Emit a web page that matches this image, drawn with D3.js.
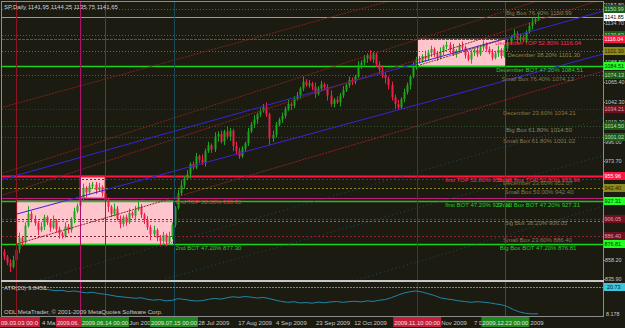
<!DOCTYPE html>
<html>
<head>
<meta charset="utf-8">
<script src="https://cdn.jsdelivr.net/npm/d3@7/dist/d3.min.js"></script>
<style>
  body { margin: 0; background: #1b1b12; }
  svg { display: block; }
  text { font-family: "Liberation Sans", Arial, sans-serif; }
</style>
</head>
<body>
<svg id="chart" width="625" height="328"></svg>
<script>
// SP daily candles, spring - December 2009 (open = previous close)
var firstOpen = 868;
var closes = [
  862, 855, 850, 858, 870, 884, 879, 898, 912, 906,
  901, 893, 897, 908, 902, 896, 904, 894, 889, 886,
  897, 893, 906, 915, 921, 930, 942, 937, 944, 946,
  940, 943, 936, 928, 920, 912, 918, 906, 900, 908,
  902, 913, 910, 917, 920, 911, 905, 896, 888, 893,
  884, 880, 887, 879, 886, 899, 919, 936, 945, 953,
  958, 970, 966, 979, 975, 972, 985, 992, 987, 1002,
  1005, 996, 1008, 1002, 1009, 991, 985, 979, 988, 994,
  1008, 1016, 1022, 1028, 1032, 1036, 1028, 1000, 1004, 1016,
  1022, 1026, 1034, 1040, 1038, 1046, 1050, 1058, 1066, 1062,
  1064, 1060, 1052, 1058, 1063, 1060, 1050, 1040, 1045, 1042,
  1050, 1056, 1062, 1068, 1066, 1072, 1085, 1088, 1093, 1097,
  1092, 1098, 1086, 1080, 1074, 1070, 1062, 1048, 1040, 1036,
  1046, 1054, 1062, 1072, 1084, 1092, 1090, 1096, 1093, 1100,
  1104, 1098, 1094, 1101, 1107, 1109, 1104, 1098, 1102, 1108,
  1106, 1097, 1092, 1100, 1103, 1098, 1106, 1110, 1104, 1100,
  1094, 1099, 1103, 1096, 1105, 1112, 1118, 1122, 1115, 1118,
  1114, 1124, 1131, 1136, 1139, 1141.65
];
var upWick = [
  3,2,4,5,3,6,2,4,9,3, 4,2,5,3,2,4,6,2,3,2, 5,3,2,4,3,6,5,2,4,3,
  3,5,2,4,3,2,6,3,4,2, 3,5,2,4,6,3,2,4,3,5, 2,3,4,2,5,3,2,4,6,3,
  5,2,3,4,2,6,3,4,2,5, 3,4,2,6,3,2,5,4,3,2, 4,3,5,2,3,4,6,2,5,3,
  2,4,3,5,2,3,4,2,6,3, 4,2,5,3,4,2,3,6,2,4, 3,5,2,4,3,2,5,3,4,2,
  6,3,2,4,5,3,2,4,3,5, 2,4,3,2,5,3,4,2,6,3, 4,2,3,5,2,4,3,6,2,3,
  5,2,4,3,2,5,3,4,2,3, 4,3,5,2,4,3,2,5,3,4, 3,2,4,5,2,3
];
var dnWick = [
  4,3,6,2,3,4,5,3,2,4, 3,6,2,4,3,5,2,4,6,3, 2,4,3,5,2,3,4,6,2,3,
  5,2,4,3,6,4,3,2,5,3, 4,2,3,6,2,4,5,3,7,2, 4,6,3,5,2,4,3,2,3,4,
  2,5,3,2,4,3,5,2,4,3, 6,2,4,3,5,6,4,3,2,4, 3,2,4,5,3,2,3,8,4,3,
  2,4,3,2,5,3,2,4,3,2, 3,4,5,2,3,4,6,3,4,2, 5,3,2,3,4,3,2,4,3,5,
  2,4,3,5,4,6,5,4,6,3, 2,4,3,5,2,4,3,2,4,3, 5,3,4,2,4,3,5,2,4,3,
  3,4,2,5,4,3,2,4,3,2, 3,2,4,3,2,4,3,2,4,3, 2,3,2,4,3,2
];

var priceTicks = [1157.80, 1134.70, 1088.50, 1065.40, 1042.30, 1019.20, 996.00, 973.70, 858.20, 835.90];

// horizontal levels drawn across the chart
var levelPrices = [1150.99, 1141.85, 1120.62, 1116.04, 1101.30, 1084.51, 1074.13, 1034.21, 1014.50, 1001.02,
                   955.96, 952.07, 942.40, 930.31, 927.31, 906.05, 903.70, 886.40, 876.81];
// price tags on the right axis
var tagPrices = [1150.99, 1141.85, 1120.62, 1116.04, 1101.30, 1084.51, 1074.13, 1034.21, 1014.50, 1001.02,
                 955.96, 942.40, 927.31, 906.05, 886.40, 876.81];

// text objects: label, bar, price
var noteTexts = [
  "Big Box 76.40%  1150.99", "December TOP 52.80%  1116.04", "December 38.20%  1101.30",
  "December BOT 47.20%  1084.51", "Small Box 76.40%  1074.13", "December 23.60%  1034.21",
  "Big Box 61.80%  1014.50", "Small Box 61.80%  1001.02", "first TOP 52.80%  955.96",
  "Small Box TOP 52.80%  955.96", "December 23.60%  952.07", "Small Box 50.00%  942.40",
  "first BOT 47.20%  927.31", "Small Box BOT 47.20%  927.31", "2nd TOP 52.80%  930.31",
  "2nd BOT 47.20%  877.30", "Big Box 38.20%  906.05", "Small Box 23.60%  886.40",
  "Big Box BOT 47.20%  876.81"
];
var noteBars = [164.5, 161, 165, 161.3, 163, 163.5, 164.5, 163.5, 144.6, 161.6, 163.5, 164, 144.6, 161.6, 56.2, 56.2, 164, 163.5, 162.5];
var notePrices = [1150.99, 1116.04, 1101.30, 1084.51, 1074.13, 1034.21, 1014.50, 1001.02, 955.96, 955.96,
                  952.07, 942.40, 927.31, 927.31, 930.31, 876.81, 906.05, 886.40, 876.81];

// rectangles: bar range and price range
var boxFrom = [4.3, 24.9, 135.4];
var boxTo = [55.4, 33.1, 164.3];
var boxTop = [927.31, 955.96, 1116.04];
var boxBot = [876.81, 930.31, 1084.51];

// trend lines: bar1, price1, bar2, price2
var trendLines = [
  [-1.31, 951.4, 203.6, 1155.5],
  [4.26, 911.7, 203.6, 1105.4],
  [-1.31, 1035.4, 127.5, 1161.3],
  [-1.31, 958.4, 175.7, 1161.3],
  [-1.31, 932.7, 195.4, 1161.3],
  [4.3, 876.81, 203.6, 1085.9],
  [135.4, 1084.51, 164.3, 1116.04],
  [9.5, 832.4, 203.6, 1030.2],
  [115.7, 834.7, 203.6, 928.7],
  [52.8, 835.9, 203.6, 987.1]
];

// vertical time markers
var markerBars = [3.9, 24.9, 33.1, 55.7, 135.4, 164.3];
var markerLabels = ["2009.03.03 00:00", "2009.06.03 00:00", "2009.06.14 00:00",
                    "2009.07.15 00:00", "2009.11.10 00:00", "2009.12.22 00:00"];

// time axis text as it shows between the marker tags
var timeLabelBars = [11.8, 40.4, 63, 76.1, 88.5, 101.6, 114.1, 142.6, 153.4, 171.8];
var timeLabels = ["4 Ma", "Jun 2009", "28 Jul 2009", "17 Aug 2009", "4 Sep 2009", "23 Sep 2009",
                  "12 Oct 2009", "Nov 2009", "7 D", "2009"];

// ATR(20), one value every second bar starting at bar 13
var atrStart = 13, atrStep = 2;
var atrValues = [
  19.8, 19.4, 19.0, 19.2, 18.6, 18.9, 18.4, 18.0, 18.3, 17.7,
  17.4, 16.9, 16.4, 16.1, 15.8, 15.5, 15.7, 15.0, 14.6, 14.9,
  14.3, 14.5, 15.3, 15.0, 14.5, 14.2, 14.4, 15.0, 15.4, 15.1,
  15.7, 16.2, 15.9, 16.3, 16.0, 15.6, 15.9, 15.3, 14.6, 14.0,
  13.6, 13.9, 13.3, 13.5, 13.2, 13.7, 13.4, 13.8, 14.0, 13.6,
  13.9, 14.1, 13.8, 14.3, 14.0, 14.6, 14.9, 15.8, 16.9, 17.9,
  18.5, 18.9, 18.4, 17.6, 16.8, 15.7, 15.2, 14.8, 14.3, 14.0,
  13.6, 13.9, 13.7, 13.4, 12.9, 12.5, 11.6, 10.2, 9.1, 8.5,
  8.2, 8.3
];
var atrLevel = 20.73;
var atrMin = 8.178;

var levelStyle = [
  ["#56604a", "1,2", 1], ["#9a9a9a", null, 1], ["#2b7a2b", "1,2", 1], ["#c81c3c", "3,1", 1],
  ["#6e6e34", "1,2", 1], ["#19d219", null, 1.5], ["#3d6a3d", "1,2", 1], ["#6a2626", "1,2", 1],
  ["#2c5c2c", "1,2", 1], ["#2c5c2c", "1,2", 1], ["#ff1744", null, 2], ["#7a2430", "2,2", 1],
  ["#8c8a1e", "2,2", 1], ["#c0207a", null, 1], ["#17c817", null, 1.5], ["#8a2234", "2,2", 1],
  ["#7c7a22", "2,2", 1], ["#8a2234", "2,2", 1], ["#19d219", null, 1.5]
];
var tagStyle = [
  ["#1e5a1e", "#b8e0b8"], ["#ffffff", "#000000"], ["#1e5a1e", "#b8e0b8"], ["#ff1744", "#ffffff"],
  ["#8c8a1e", "#202000"], ["#22ff22", "#003000"], ["#1e5a1e", "#b8e0b8"], ["#6e1020", "#e0a0a8"],
  ["#1e5a1e", "#b8e0b8"], ["#1e5a1e", "#b8e0b8"], ["#ff1744", "#ffffff"], ["#8c8a1e", "#202000"],
  ["#22ff22", "#003000"], ["#6e1020", "#e0a0a8"], ["#6e1020", "#e0a0a8"], ["#22ff22", "#003000"]
];
var noteColor = ["#8a7c52", "#ff2a50", "#8a8a44", "#22cc22", "#7c7a52", "#857a40", "#858560", "#857a50",
                 "#ff2a50", "#ff2a50", "#857a40", "#857a50", "#22cc22", "#22cc22", "#e0284a", "#22cc22",
                 "#857a50", "#857a50", "#22cc22"];
var trendStyle = [
  ["#3a24d8", null], ["#3a24d8", null], ["#7a2418", "2,1"], ["#7a2418", "2,1"], ["#8a2020", "2,1"],
  ["#8a2030", "2,1"], ["#8a3020", "2,1"], ["#1d4a58", "1,3"], ["#1d4a58", "1,3"], ["#1d4a58", "1,3"]
];
var markerColor = ["#8b1520", "#b0106a", "#2a5a2a", "#1c4b58", "#8b1520", "#2a5a2a"];
var markerBox = ["#c41e3a", "#c41e3a", "#1c8a1c", "#1c8a1c", "#c41e3a", "#1c8a1c"];

var svg = d3.select("#chart");
svg.append("rect").attr("width", 625).attr("height", 328).attr("fill", "#1b1b12");

var n = closes.length;
var x = d3.scaleLinear().domain([0, n - 1]).range([4, 538]);
var y = d3.scaleLinear().domain([835.9, 1157.8]).range([279, 3]);
var ya = d3.scaleLinear().domain([atrMin, atrLevel]).range([314, 287]);
var px = function (v) { return Math.round(v) + 0.5; };

var defs = svg.append("defs");
defs.append("clipPath").attr("id", "mainClip").append("rect")
  .attr("x", 2).attr("y", 2).attr("width", 601).attr("height", 278);
defs.append("clipPath").attr("id", "subClip").append("rect")
  .attr("x", 2).attr("y", 283).attr("width", 601).attr("height", 32);
defs.append("clipPath").attr("id", "plotClip").append("rect")
  .attr("x", 2).attr("y", 2).attr("width", 601).attr("height", 314);

var main = svg.append("g").attr("clip-path", "url(#mainClip)");

// boxes
boxFrom.forEach(function (b, k) {
  main.append("rect")
    .attr("x", x(b)).attr("y", y(boxTop[k]))
    .attr("width", x(boxTo[k]) - x(b)).attr("height", y(boxBot[k]) - y(boxTop[k]))
    .attr("fill", "#ffc4cc")
    .attr("stroke", k === 1 ? "#c0304a" : "none").attr("stroke-width", 1);
});

// vertical markers
var vlines = svg.append("g").attr("clip-path", "url(#plotClip)");
markerBars.forEach(function (b, k) {
  vlines.append("line")
    .attr("x1", px(x(b))).attr("x2", px(x(b))).attr("y1", 2).attr("y2", 316)
    .attr("stroke", markerColor[k]).attr("stroke-width", 1);
});

// horizontal levels
levelPrices.forEach(function (p, k) {
  var st = levelStyle[k];
  main.append("line")
    .attr("x1", 2).attr("x2", 603).attr("y1", px(y(p))).attr("y2", px(y(p)))
    .attr("stroke", st[0]).attr("stroke-width", st[2])
    .attr("stroke-dasharray", st[1]);
});

// candles
var bars = closes.map(function (c, i) {
  var o = i === 0 ? firstOpen : closes[i - 1];
  return { i: i, o: o, c: c, h: Math.max(o, c) + upWick[i], l: Math.min(o, c) - dnWick[i] };
});
var candle = main.append("g").selectAll("g").data(bars).enter().append("g");
candle.append("line")
  .attr("x1", function (d) { return px(x(d.i)); })
  .attr("x2", function (d) { return px(x(d.i)); })
  .attr("y1", function (d) { return y(d.h); })
  .attr("y2", function (d) { return y(d.l); })
  .attr("stroke", function (d) { return d.c >= d.o ? "#1ea51e" : "#f01e4b"; });
candle.append("rect")
  .attr("x", function (d) { return Math.round(x(d.i)) - 0.5; })
  .attr("width", 2)
  .attr("y", function (d) { return y(Math.max(d.o, d.c)); })
  .attr("height", function (d) { return Math.max(1, Math.abs(y(d.o) - y(d.c))); })
  .attr("fill", function (d) { return d.c >= d.o ? "#1ea51e" : "#f01e4b"; });

// trend lines
trendLines.forEach(function (t, k) {
  main.append("line")
    .attr("x1", x(t[0])).attr("y1", y(t[1]))
    .attr("x2", x(t[2])).attr("y2", y(t[3]))
    .attr("stroke", trendStyle[k][0]).attr("stroke-width", 1)
    .attr("stroke-dasharray", trendStyle[k][1]);
});

// text objects
noteTexts.forEach(function (t, k) {
  main.append("text")
    .attr("x", x(noteBars[k])).attr("y", y(notePrices[k]) + 6)
    .attr("font-size", 6).attr("fill", noteColor[k]).text(t);
});

// title
svg.append("text").attr("x", 4).attr("y", 8.5).attr("font-size", 6)
  .attr("fill", "#d0d0d0").text("SP,Daily  1141.95 1144.25 1135.75 1141.65");

// frame and window separator
svg.append("rect").attr("x", 1.5).attr("y", 1.5).attr("width", 602).attr("height", 315)
  .attr("fill", "none").attr("stroke", "#8c8c8c");
svg.append("line").attr("x1", 1).attr("x2", 604).attr("y1", 281).attr("y2", 281)
  .attr("stroke", "#c8c8c8").attr("stroke-width", 2);

// ATR subwindow
var sub = svg.append("g").attr("clip-path", "url(#subClip)");
sub.append("line").attr("x1", 2).attr("x2", 603).attr("y1", px(ya(atrLevel))).attr("y2", px(ya(atrLevel)))
  .attr("stroke", "#3aa0c0").attr("stroke-dasharray", "2,1");
sub.append("path")
  .datum(atrValues)
  .attr("fill", "none").attr("stroke", "#1f86a8").attr("stroke-width", 1)
  .attr("d", d3.line()
    .x(function (d, k) { return x(atrStart + k * atrStep); })
    .y(function (d) { return ya(d); }));
svg.append("text").attr("x", 4).attr("y", 289.5).attr("font-size", 6)
  .attr("fill", "#c8c8c8").text("ATR(20) 9.8458");
svg.append("text").attr("x", 4).attr("y", 314).attr("font-size", 6)
  .attr("fill", "#c8c8c8").text("ODL MetaTrader, \u00a9 2001-2009 MetaQuotes Software Corp.");

// right price axis
var axis = svg.append("g");
priceTicks.forEach(function (p) {
  var yy = Math.max(y(p), 4.5);
  axis.append("line").attr("x1", 603).attr("x2", 605).attr("y1", px(y(p))).attr("y2", px(y(p)))
    .attr("stroke", "#8c8c8c");
  axis.append("text").attr("x", 605).attr("y", yy + 2).attr("font-size", 5.4)
    .attr("fill", "#c8c8c8").text(p.toFixed(2));
});
axis.append("text").attr("x", 606).attr("y", ya(atrMin) + 2).attr("font-size", 5.4)
  .attr("fill", "#c8c8c8").text(atrMin.toFixed(3));

tagPrices.forEach(function (p, k) {
  var yy = Math.round(y(p));
  axis.append("rect").attr("x", 604).attr("y", yy - 4).attr("width", 21).attr("height", 8)
    .attr("fill", tagStyle[k][0]);
  axis.append("text").attr("x", 604.6).attr("y", yy + 2).attr("font-size", 5.4)
    .attr("fill", tagStyle[k][1]).text(p.toFixed(2));
});
var ay = Math.round(ya(atrLevel));
axis.append("rect").attr("x", 604).attr("y", ay - 4).attr("width", 21).attr("height", 8).attr("fill", "#40c4d8");
axis.append("text").attr("x", 607).attr("y", ay + 2).attr("font-size", 5.4)
  .attr("fill", "#002030").text(atrLevel.toFixed(2));

// time axis
var tAxis = svg.append("g");
timeLabels.forEach(function (t, k) {
  tAxis.append("text").attr("x", x(timeLabelBars[k]) + 2).attr("y", 325).attr("font-size", 6)
    .attr("fill", "#c8c8c8").text(t);
});
// marker tags on the time axis, each trimmed where the next one covers it
var charW = 3;
markerBars.forEach(function (b, k) {
  var cx = x(b), left = cx - 24, right = cx + 24, label = markerLabels[k];
  if (k + 1 < markerBars.length) right = Math.min(right, x(markerBars[k + 1]) - 24);
  var cutL = 0;
  if (left < 0) { cutL = Math.floor(-left / charW); left = 0; }
  var keep = Math.floor((right - left) / charW);
  label = label.slice(cutL, cutL + keep);
  tAxis.append("rect").attr("x", left).attr("y", 317).attr("width", right - left).attr("height", 10)
    .attr("fill", markerBox[k]);
  tAxis.append("text").attr("x", left + 1).attr("y", 325)
    .attr("font-size", 6).attr("textLength", label.length * charW - 2).attr("lengthAdjust", "spacingAndGlyphs")
    .attr("fill", "#f0e0e0").text(label);
});
</script>
</body>
</html>
